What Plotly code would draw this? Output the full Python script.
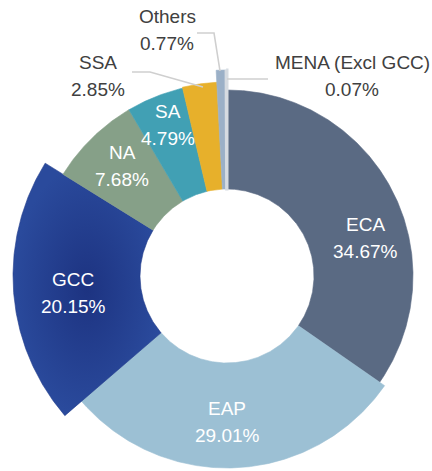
import numpy as np
import plotly.graph_objects as go

# Share of total by region (%)
regions = ["ECA", "EAP", "GCC", "NA", "SA", "SSA", "Others", "MENA (Excl GCC)"]
shares = [34.67, 29.01, 20.15, 7.68, 4.79, 2.85, 0.77, 0.07]

# Styling per slice
colors = ["#5a6a83", "#9cc0d4", "#213c8b", "#86a088", "#41a0b4", "#e7b02b", "#9bb0c7", "#d6dbe1"]
outer_radius = [186, 192, 214, 193, 193, 194, 206, 206]
HOLE_RADIUS = 87
LINE_GAP = 26.5

# Label anchor points (chart units, donut centre at 0,0) and text colours
label_pos = [(138, 38), (0, -146), (-154, -17), (-105, 110), (-59, 151),
             (-129, 200), (-60, 246), (125, 200)]
label_inside = [True, True, True, True, True, False, False, False]

# Leader lines for the small outside-labelled slices
leaders = {
    "SSA": [(-95, 204), (-77, 204), (-24, 189)],
    "Others": [(-30, 243), (-13, 243), (-7, 205)],
    "MENA (Excl GCC)": [(41, 197), (0, 197)],
}

total = sum(shares)
edges = np.concatenate([[0.0], np.cumsum(shares)]) / total * 360.0

fig = go.Figure()

for i, name in enumerate(regions):
    a0, a1 = edges[i], edges[i + 1]
    n = max(int((a1 - a0) / 0.4), 2)
    th = np.radians(np.linspace(a0, a1, n))
    r_out = outer_radius[i]
    xs = np.concatenate([r_out * np.sin(th), HOLE_RADIUS * np.sin(th[::-1])])
    ys = np.concatenate([r_out * np.cos(th), HOLE_RADIUS * np.cos(th[::-1])])
    xs = np.append(xs, xs[0])
    ys = np.append(ys, ys[0])
    kw = dict(fillcolor=colors[i])
    if name == "GCC":
        kw = dict(fillgradient=dict(type="radial",
                                    colorscale=[[0, "#1d3381"], [1, "#2a4a9c"]]))
    line_w = 3 if name == "MENA (Excl GCC)" else 0.6
    fig.add_trace(go.Scatter(
        x=xs, y=ys, mode="lines", fill="toself",
        line=dict(color=colors[i], width=line_w),
        hoverinfo="skip", showlegend=False, **kw))

for name, pts in leaders.items():
    fig.add_trace(go.Scatter(
        x=[p[0] for p in pts], y=[p[1] for p in pts], mode="lines",
        line=dict(color="#cfcfcf", width=1.6),
        hoverinfo="skip", showlegend=False))

for i, name in enumerate(regions):
    x, y = label_pos[i]
    font = dict(family="Liberation Sans, Arial, sans-serif", size=19,
                color="#ffffff" if label_inside[i] else "#404040")
    for txt, dy in ((name, LINE_GAP / 2), (f"{shares[i]:.2f}%", -LINE_GAP / 2)):
        fig.add_annotation(x=x, y=y + dy, xref="x", yref="y", showarrow=False,
                           text=txt, font=font, align="center")

fig.update_layout(
    width=432, height=471,
    margin=dict(l=0, r=0, t=0, b=0),
    paper_bgcolor="white", plot_bgcolor="white",
    xaxis=dict(range=[-227, 205], visible=False, fixedrange=True),
    yaxis=dict(range=[-195, 276], visible=False, fixedrange=True),
    showlegend=False,
)

fig.write_html("out.html")
